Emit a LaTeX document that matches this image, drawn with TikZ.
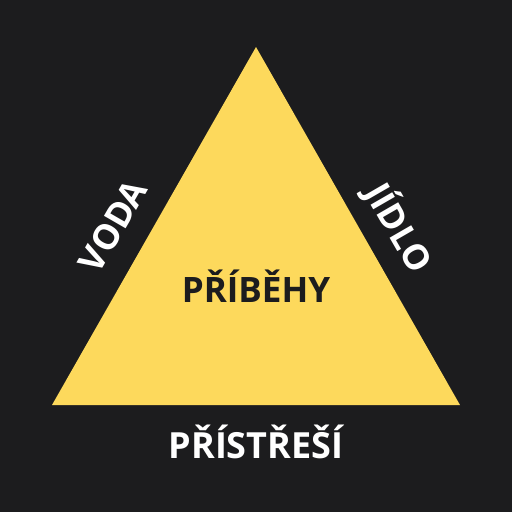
\documentclass[tikz,border=0pt]{standalone}
\usepackage{fontspec}
\setmainfont{Open Sans}
\definecolor{bg}{HTML}{1C1C1E}
\definecolor{tri}{HTML}{FDD95C}
\definecolor{ink}{HTML}{1C1C1E}
\begin{document}
\begin{tikzpicture}[x=1pt,y=-1pt,
  lbl/.style={font=\bfseries\fontsize{35}{35}\selectfont, inner sep=0pt},
  side/.style={lbl, text=white}]
\fill[bg] (0,0) rectangle (512,512);
\useasboundingbox (0,0) rectangle (512,512);
\coordinate (A) at (256,47);
\coordinate (B) at (52,405);
\coordinate (C) at (460,405);
\fill[tri] (A) -- (B) -- (C) -- cycle;
\node[lbl, text=ink] (center) at (256,286) {PŘÍBĚHY};
\node[side, rotate=60] (voda) at (113,226) {VODA};
\node[side, rotate=-60] (jidlo) at (399,228) {JÍDLO};
\node[side, font=\bfseries\fontsize{36}{36}\selectfont] (pristresi) at (256,442) {PŘÍSTŘEŠÍ};
\end{tikzpicture}
\end{document}
